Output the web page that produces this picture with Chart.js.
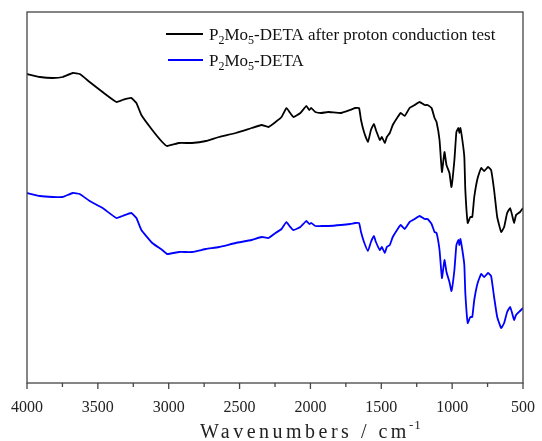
<!DOCTYPE html>
<html>
<head>
<meta charset="utf-8">
<script src="https://cdn.jsdelivr.net/npm/chart.js@4.4.1/dist/chart.umd.min.js"></script>
<style>
  html, body { margin: 0; padding: 0; background: #fff; }
  #wrap { width: 542px; height: 441px; }
</style>
</head>
<body>
<div id="wrap"><canvas id="myChart" width="542" height="441"></canvas></div>
<script>
// wavenumbers (cm-1), shared by both spectra
const wavenumbers = [4000, 3909, 3818, 3747, 3677, 3628, 3558, 3467, 3369, 3327, 3264, 3228, 3193, 3116, 3046, 3011, 2927, 2836, 2737, 2646,
  2527, 2415, 2345, 2296, 2246, 2204, 2169, 2148, 2120, 2071, 2029, 2008, 1994, 1966, 1924, 1875, 1784, 1720, 1685, 1657,
  1643, 1622, 1594, 1573, 1552, 1538, 1510, 1496, 1475, 1461, 1440, 1419, 1384, 1363, 1335, 1300, 1265, 1230, 1194, 1173,
  1145, 1124, 1110, 1089, 1072, 1054, 1040, 1019, 1005, 984, 970, 956, 949, 942, 928, 914, 907, 890, 872, 858,
  844, 820, 795, 774, 746, 725, 704, 682, 654, 633, 612, 591, 577, 563, 549, 521, 500]

// transmittance, arbitrary units (curves are offset)
const despuesPrueba = [309, 306, 305, 306, 310, 309, 301, 291, 281, 283, 285, 280, 268, 253, 241, 237, 240, 240, 242, 246,
  250, 255, 258, 256, 261, 266, 275, 271, 266, 270, 277, 273, 275, 271, 270, 271, 270, 273, 275, 275,
  263, 251, 241, 253, 259, 253, 243, 246, 240, 246, 250, 258, 266, 270, 267, 275, 278, 281, 278, 278,
  275, 265, 261, 243, 211, 231, 218, 210, 196, 223, 251, 255, 250, 255, 243, 226, 193, 160, 166, 166,
  186, 205, 215, 212, 216, 213, 193, 166, 151, 156, 170, 175, 168, 160, 168, 171, 175]

const original = [190, 187, 186, 186, 190, 189, 182, 175, 165, 167, 170, 165, 153, 140, 133, 129, 131, 131, 134, 136,
  140, 143, 146, 145, 150, 154, 161, 157, 153, 156, 162, 159, 160, 157, 157, 157, 158, 159, 160, 160,
  151, 141, 132, 141, 147, 141, 133, 136, 130, 136, 138, 146, 154, 158, 154, 161, 164, 167, 164, 164,
  159, 151, 150, 133, 105, 123, 111, 101, 92, 113, 138, 143, 138, 144, 133, 118, 90, 60, 66, 66,
  83, 100, 109, 106, 110, 107, 86, 66, 55, 60, 71, 76, 70, 63, 68, 72, 75]

// legend labels split into [text, isSubscript]
const etiquetaDespues = [["P", 0], ["2", 1], ["Mo", 0], ["5", 1], ["-DETA after proton conduction test", 0]]
const etiquetaOriginal = [["P", 0], ["2", 1], ["Mo", 0], ["5", 1], ["-DETA", 0]]
const tituloX = "Wavenumbers / cm"
const tituloXSup = "-1"

const serif = "'Liberation Serif', 'Times New Roman', serif"

function puntos(valores) {
    let datos = []
    wavenumbers.forEach(function(w, i) {
        datos.push({x: w, y: valores[i]})
    })
    return datos
}

function textoQuimico(ctx, partes, x, y) {
    partes.forEach(function(p) {
        if (p[1]) {
            ctx.font = "12px " + serif
            ctx.fillText(p[0], x, y + 4)
        } else {
            ctx.font = "17px " + serif
            ctx.fillText(p[0], x, y)
        }
        x += ctx.measureText(p[0]).width
    })
}

const marco = {
    id: 'marco',
    afterDraw(chart) {
        const ctx = chart.ctx
        const a = chart.chartArea
        const sx = chart.scales.x
        ctx.save()
        ctx.strokeStyle = '#444'
        ctx.lineWidth = 1.3
        ctx.strokeRect(a.left, a.top, a.right - a.left, a.bottom - a.top)
        // tick marks below the bottom axis
        for (let v = 500; v <= 4000; v += 250) {
            const px = sx.getPixelForValue(v)
            const largo = (v % 500 == 0) ? 6 : 4
            ctx.beginPath()
            ctx.moveTo(px, a.bottom)
            ctx.lineTo(px, a.bottom + largo)
            ctx.stroke()
        }
        // axis title with superscript
        ctx.fillStyle = '#222'
        ctx.textBaseline = 'alphabetic'
        ctx.font = "20px " + serif
        ctx.letterSpacing = "3.5px"
        const w1 = ctx.measureText(tituloX).width
        const x0 = 200
        ctx.fillText(tituloX, x0, 438)
        ctx.font = "13px " + serif
        ctx.letterSpacing = "1px"
        ctx.fillText(tituloXSup, x0 + w1 - 1, 429)
        ctx.letterSpacing = "0px"

        // legend
        const filas = [
            {color: '#000', partes: etiquetaDespues, y: 34, x1: 166},
            {color: '#0000ff', partes: etiquetaOriginal, y: 60, x1: 168}
        ]
        filas.forEach(function(f) {
            ctx.strokeStyle = f.color
            ctx.lineWidth = 2
            ctx.beginPath()
            ctx.moveTo(f.x1, f.y)
            ctx.lineTo(203, f.y)
            ctx.stroke()
            ctx.fillStyle = '#111'
            textoQuimico(ctx, f.partes, 209, f.y + 6)
        })
        ctx.restore()
    }
}

const ctx = document.getElementById("myChart").getContext("2d")

const config = {
    type: 'line',
    data: {
        datasets: [{
            label: 'P2Mo5-DETA after proton conduction test',
            data: puntos(despuesPrueba),
            borderColor: '#000',
            borderWidth: 1.8,
            pointRadius: 0,
            tension: 0.12,
            fill: false
        }, {
            label: 'P2Mo5-DETA',
            data: puntos(original),
            borderColor: '#0000ff',
            borderWidth: 1.8,
            pointRadius: 0,
            tension: 0.12,
            fill: false
        }]
    },
    options: {
        responsive: false,
        animation: false,
        layout: { padding: { left: 27, right: 16, top: 12, bottom: 0 } },
        plugins: {
            legend: { display: false },
            tooltip: { enabled: false }
        },
        scales: {
            x: {
                type: 'linear',
                reverse: true,
                min: 500,
                max: 4000,
                afterFit: function(s) { s.height = 58 },
                grid: { display: false, drawTicks: true, tickLength: 8 },
                border: { display: false },
                ticks: {
                    stepSize: 500,
                    autoSkip: false,
                    maxRotation: 0,
                    padding: 7,
                    color: '#222',
                    font: { family: serif, size: 16 },
                    callback: function(v) { return String(v) }
                }
            },
            y: {
                display: false,
                min: 0,
                max: 371
            }
        }
    },
    plugins: [marco]
}

var myChart = new Chart(ctx, config)
</script>
</body>
</html>
